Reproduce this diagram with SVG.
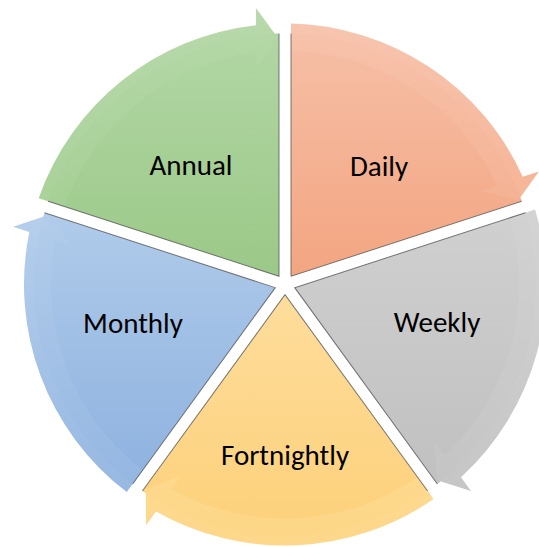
<svg xmlns="http://www.w3.org/2000/svg" xmlns:xlink="http://www.w3.org/1999/xlink" width="539" height="547" viewBox="0 0 539 547">
  <style>
    .label { font-family: Carlito, Lato, "Liberation Sans", sans-serif; font-size: 29px; fill: #000; text-anchor: middle; }
    .edge { fill: none; stroke: #4d4d4d; stroke-width: 1; stroke-opacity: 0.75; }
    .band { opacity: 0.97; }
  </style>
  <defs>
    <!-- base segment geometry (top-right slice); other slices are rotations about the hub (285, 284.5) -->
    <path id="pie" d="M 291.0 276.25 L 291.0 33.57 A 251 251 0 0 1 521.79 201.25 Z"/>
    <path id="arrow" d="M 291.0 23.57 A 261 261 0 0 1 522.69 176.68 L 538.97 171.43 L 518.26 200.29 L 481.93 190.99 L 497.02 185.5 A 234 234 0 0 0 291.0 50.58 Z"/>
    <path id="rim" d="M 291.0 33.57 L 291.0 276.25 L 521.79 201.25"/>

    <linearGradient id="gDaily" gradientUnits="userSpaceOnUse" x1="0" y1="24" x2="0" y2="276">
      <stop offset="0" stop-color="#f6c0a8"/><stop offset="1" stop-color="#f3a581"/>
    </linearGradient>
    <linearGradient id="bDaily" gradientUnits="userSpaceOnUse" x1="0" y1="24" x2="0" y2="276">
      <stop offset="0" stop-color="#f7c3ac"/><stop offset="1" stop-color="#f4ab8a"/>
    </linearGradient>

    <linearGradient id="gWeekly" gradientUnits="userSpaceOnUse" x1="0" y1="172" x2="0" y2="492" gradientTransform="rotate(-72 285 284.5)">
      <stop offset="0" stop-color="#d2d2d2"/><stop offset="1" stop-color="#c0c0c0"/>
    </linearGradient>
    <linearGradient id="bWeekly" gradientUnits="userSpaceOnUse" x1="0" y1="172" x2="0" y2="492" gradientTransform="rotate(-72 285 284.5)">
      <stop offset="0" stop-color="#d4d4d4"/><stop offset="1" stop-color="#c4c4c4"/>
    </linearGradient>

    <linearGradient id="gFortnightly" gradientUnits="userSpaceOnUse" x1="0" y1="290" x2="0" y2="546" gradientTransform="rotate(-144 285 284.5)">
      <stop offset="0" stop-color="#fedd9c"/><stop offset="1" stop-color="#fdd079"/>
    </linearGradient>
    <linearGradient id="bFortnightly" gradientUnits="userSpaceOnUse" x1="0" y1="290" x2="0" y2="546" gradientTransform="rotate(-144 285 284.5)">
      <stop offset="0" stop-color="#fee0a2"/><stop offset="1" stop-color="#fdd686"/>
    </linearGradient>

    <linearGradient id="gMonthly" gradientUnits="userSpaceOnUse" x1="0" y1="214" x2="0" y2="490" gradientTransform="rotate(-216 285 284.5)">
      <stop offset="0" stop-color="#b0cbea"/><stop offset="1" stop-color="#8db1df"/>
    </linearGradient>
    <linearGradient id="bMonthly" gradientUnits="userSpaceOnUse" x1="0" y1="214" x2="0" y2="490" gradientTransform="rotate(-216 285 284.5)">
      <stop offset="0" stop-color="#b3cdeb"/><stop offset="1" stop-color="#94b6e1"/>
    </linearGradient>

    <linearGradient id="gAnnual" gradientUnits="userSpaceOnUse" x1="0" y1="8" x2="0" y2="276" gradientTransform="rotate(-288 285 284.5)">
      <stop offset="0" stop-color="#b4d7a7"/><stop offset="1" stop-color="#9bc988"/>
    </linearGradient>
    <linearGradient id="bAnnual" gradientUnits="userSpaceOnUse" x1="0" y1="8" x2="0" y2="276" gradientTransform="rotate(-288 285 284.5)">
      <stop offset="0" stop-color="#b6d8a9"/><stop offset="1" stop-color="#a1cd8f"/>
    </linearGradient>
  </defs>

  <rect width="539" height="547" fill="#ffffff"/>

  <g id="daily">
    <use xlink:href="#pie" href="#pie" fill="url(#gDaily)"/>
    <use xlink:href="#arrow" href="#arrow" class="band" fill="url(#bDaily)"/>
    <use xlink:href="#rim" href="#rim" class="edge"/>
    <text class="label" x="379" y="176">Daily</text>
  </g>

  <g id="weekly">
    <g transform="rotate(72 285 284.5)">
      <use xlink:href="#pie" href="#pie" fill="url(#gWeekly)"/>
      <use xlink:href="#arrow" href="#arrow" class="band" fill="url(#bWeekly)"/>
      <use xlink:href="#rim" href="#rim" class="edge"/>
    </g>
    <text class="label" x="437" y="332">Weekly</text>
  </g>

  <g id="fortnightly">
    <g transform="rotate(144 285 284.5)">
      <use xlink:href="#pie" href="#pie" fill="url(#gFortnightly)"/>
      <use xlink:href="#arrow" href="#arrow" class="band" fill="url(#bFortnightly)"/>
      <use xlink:href="#rim" href="#rim" class="edge"/>
    </g>
    <text class="label" x="285" y="465">Fortnightly</text>
  </g>

  <g id="monthly">
    <g transform="rotate(216 285 284.5)">
      <use xlink:href="#pie" href="#pie" fill="url(#gMonthly)"/>
      <use xlink:href="#arrow" href="#arrow" class="band" fill="url(#bMonthly)"/>
      <use xlink:href="#rim" href="#rim" class="edge"/>
    </g>
    <text class="label" x="133" y="333">Monthly</text>
  </g>

  <g id="annual">
    <g transform="rotate(288 285 284.5)">
      <use xlink:href="#pie" href="#pie" fill="url(#gAnnual)"/>
      <use xlink:href="#arrow" href="#arrow" class="band" fill="url(#bAnnual)"/>
      <use xlink:href="#rim" href="#rim" class="edge"/>
    </g>
    <text class="label" x="191" y="175">Annual</text>
  </g>

  <g id="connectors"/>
</svg>
